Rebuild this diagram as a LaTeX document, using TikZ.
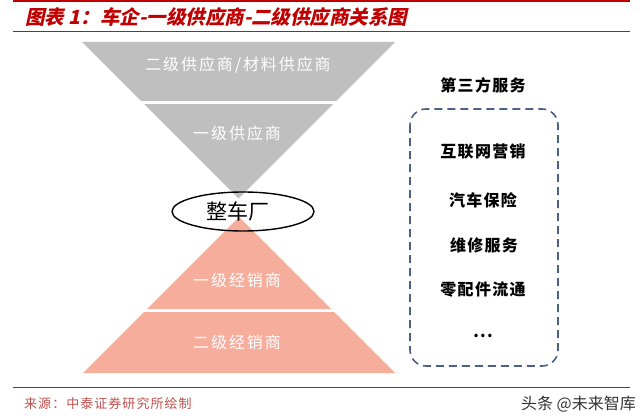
\documentclass[tikz,border=0pt]{standalone}
\usepackage{fontspec}
\setmainfont{Liberation Sans}
\newfontfamily\cjk{Noto Sans CJK SC}
\newfontfamily\cjkwide{Noto Sans CJK SC}[LetterSpace=12]
\newfontfamily\cjkitem{Noto Sans CJK SC}[LetterSpace=8]
\newfontfamily\cjkslant{Noto Sans CJK SC}[FakeSlant=0.22]
\definecolor{titlered}{HTML}{C00000}
\definecolor{linered}{HTML}{A32020}
\definecolor{srcred}{HTML}{C0504D}
\definecolor{greyband}{HTML}{BFBFBF}
\definecolor{pinkband}{HTML}{F7AD9C}
\definecolor{dashblue}{HTML}{4A6185}
\tikzset{
  bandtext/.style={text=white, font=\cjkwide\fontsize{16}{16}\selectfont},
  itemtext/.style={text=black, font=\cjkitem\bfseries\fontsize{16}{16}\selectfont},
  greyfill/.style={fill=greyband, draw=none},
  pinkfill/.style={fill=pinkband, draw=none},
  servicebox/.style={draw=dashblue, line width=1.6pt, dash pattern=on 8pt off 5pt, rounded corners=16pt},
}
\begin{document}
\begin{tikzpicture}[x=1pt,y=-1pt]
\useasboundingbox (0,0) rectangle (640,420);
% header
\fill[titlered] (13,0) rectangle (630,2.5);
\node[anchor=west, text=titlered, font=\cjkslant\bfseries\fontsize{19.5}{20}\selectfont, inner sep=0pt] (title) at (25,17) {图表 1：车企-一级供应商-二级供应商关系图};
\draw[linered, line width=1pt] (13,32) -- (630,32);
% grey inverted triangle
\fill[greyfill] (82,42) -- (395,42) -- (336,101) -- (141,101) -- cycle;
\fill[greyfill] (144,104) -- (333,104) -- (238.5,198.5) -- cycle;
% pink triangle
\fill[pinkfill] (239,217) -- (331,309) -- (147,309) -- cycle;
\fill[pinkfill] (144,312) -- (334,312) -- (395,373) -- (83,373) -- cycle;
% band labels
\node[bandtext] (s2) at (238,65) {二级供应商/材料供应商};
\node[bandtext] (s1) at (237,133) {一级供应商};
\node[bandtext] (d1) at (237,280) {一级经销商};
\node[bandtext] (d2) at (237,342) {二级经销商};
% ellipse
\draw[black, line width=1.4pt] (243,211.5) ellipse [x radius=71, y radius=19.5];
\node[text=black, font=\cjk\fontsize{21}{21}\selectfont] (oem) at (238,211) {整车厂};
% third party services
\node[itemtext] (svc) at (483,85) {第三方服务};
\draw[servicebox] (410,109) rectangle (558,366);
\node[itemtext] (i1) at (483,152) {互联网营销};
\node[itemtext] (i2) at (483,200) {汽车保险};
\node[itemtext] (i3) at (484,245) {维修服务};
\node[itemtext] (i4) at (483,290) {零配件流通};
\node[itemtext] (i5) at (483,336) {...};
% footer
\draw[linered, line width=1pt] (13,387) -- (630,387);
\node[anchor=west, text=srcred, font=\cjkitem\fontsize{13}{13}\selectfont, inner sep=0pt] (src) at (24,404) {来源：中泰证券研究所绘制};
\node[anchor=east, text=black!80, font=\cjk\fontsize{16}{16}\selectfont, inner sep=0pt] (wm) at (636,404) {头条 @未来智库};
\end{tikzpicture}
\end{document}
